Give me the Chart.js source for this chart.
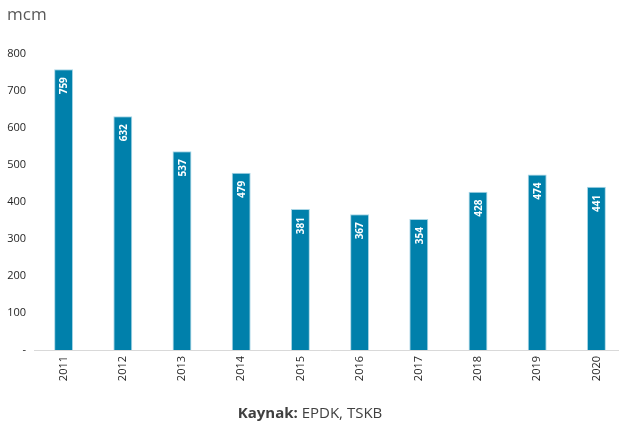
<!DOCTYPE html>
<html lang="tr">
<head>
  <meta charset="UTF-8">
  <title>mcm</title>
  <script src="https://cdn.jsdelivr.net/npm/chart.js"></script>
  <style>
    body { margin: 0; background: #fff; overflow: hidden; }
  </style>
</head>
<body>
  <canvas id="chart" width="626" height="433"></canvas>
  <script>
    const years = ['2011', '2012', '2013', '2014', '2015', '2016', '2017', '2018', '2019', '2020']
    const values = [759, 632, 537, 479, 381, 367, 354, 428, 474, 441]
    const yTicks = [0, 100, 200, 300, 400, 500, 600, 700, 800]

    const FONT = '"Open Sans", "Liberation Sans", sans-serif'

    // etiketler + başlık + kaynak
    const extras = {
      id: 'extras',
      afterDatasetsDraw(chart) {
        const ctx = chart.ctx
        const meta = chart.getDatasetMeta(0)
        ctx.save()
        ctx.fillStyle = '#ffffff'
        ctx.font = 'bold 10px ' + FONT
        meta.data.forEach((bar, i) => {
          ctx.save()
          ctx.translate(bar.x, bar.y + 8)
          ctx.rotate(-Math.PI / 2)
          ctx.textAlign = 'right'
          ctx.textBaseline = 'middle'
          ctx.fillText(values[i], 0, 1)
          ctx.restore()
        })
        ctx.restore()
      },
      afterDraw(chart) {
        const ctx = chart.ctx
        ctx.save()
        ctx.fillStyle = '#595959'
        ctx.font = '17px ' + FONT
        ctx.textBaseline = 'alphabetic'
        ctx.fillText('mcm', 7, 20)

        ctx.fillStyle = '#404040'
        ctx.font = 'bold 15px ' + FONT
        const a = 'Kaynak: '
        const wa = ctx.measureText(a).width
        ctx.font = '15px ' + FONT
        const b = 'EPDK, TSKB'
        const wb = ctx.measureText(b).width
        const x0 = 310 - (wa + wb) / 2
        ctx.font = 'bold 15px ' + FONT
        ctx.fillText(a, x0, 418)
        ctx.font = '15px ' + FONT
        ctx.fillText(b, x0 + wa, 418)
        ctx.restore()
      }
    }

    new Chart(document.getElementById('chart'), {
      type: 'bar',
      data: {
        labels: years,
        datasets: [{
          data: values,
          backgroundColor: '#0080ab',
          borderColor: '#a9d6e6',
          borderWidth: 1,
          categoryPercentage: 1,
          barPercentage: 0.32
        }]
      },
      options: {
        responsive: false,
        animation: false,
        layout: { padding: { top: 54, left: 0, right: 0, bottom: 0 } },
        plugins: {
          legend: { display: false },
          tooltip: { enabled: false }
        },
        scales: {
          x: {
            grid: { display: false, drawTicks: false },
            border: { color: '#d9d9d9', width: 1 },
            ticks: {
              color: '#262626',
              font: { size: 11, family: FONT },
              minRotation: 90,
              maxRotation: 90,
              padding: 6
            },
            afterFit: s => { s.height = 83 }
          },
          y: {
            min: 0,
            max: 800,
            afterBuildTicks: s => { s.ticks = yTicks.map(v => ({ value: v })) },
            grid: { display: false, drawTicks: false },
            border: { display: false },
            ticks: {
              color: '#262626',
              font: { size: 11, family: FONT },
              padding: 8,
              callback: v => v === 0 ? '-' : v
            },
            afterFit: s => { s.width = 34 }
          }
        }
      },
      plugins: [extras]
    })
  </script>
</body>
</html>
